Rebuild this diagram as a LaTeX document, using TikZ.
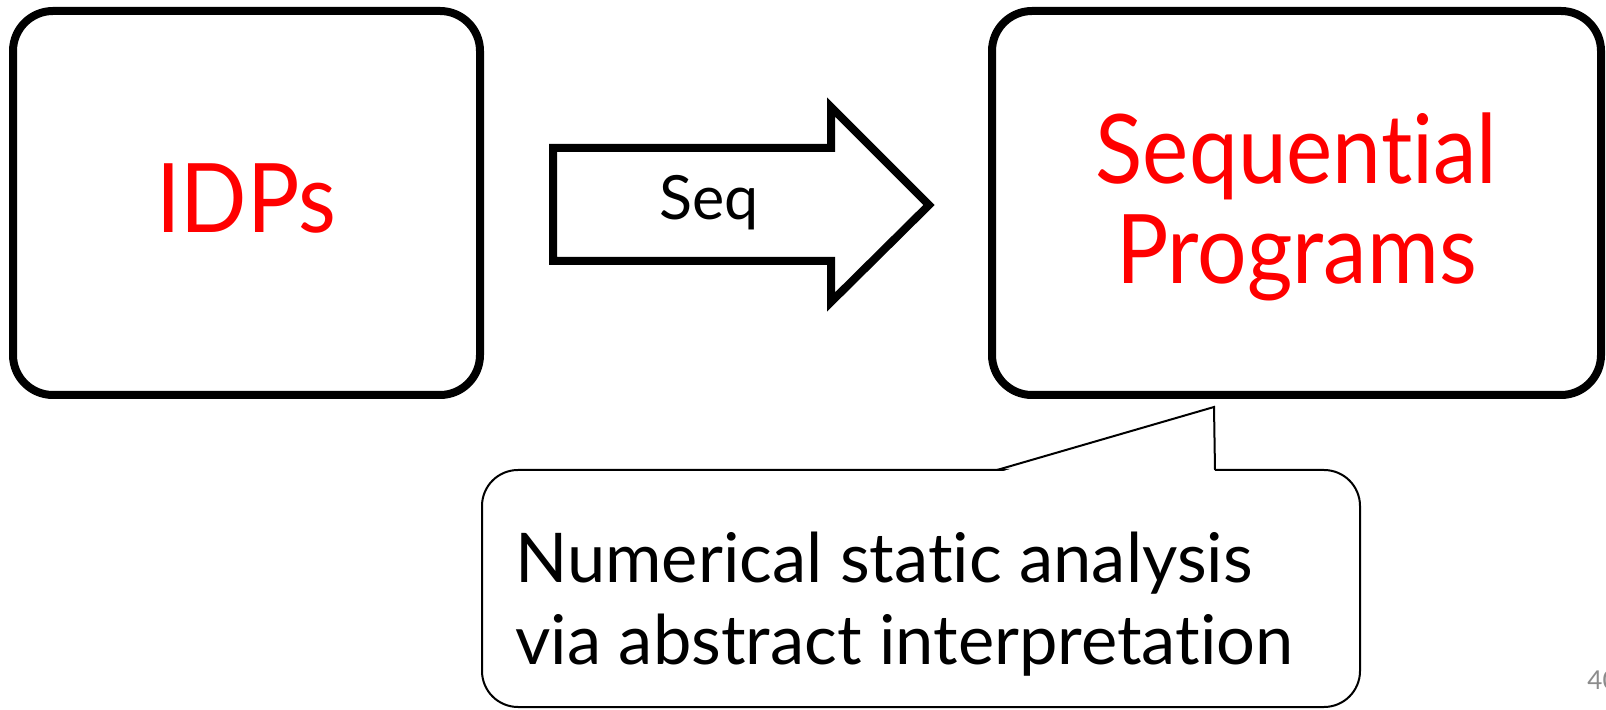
\documentclass[tikz,border=0pt]{standalone}
\usepackage{fontspec}
\setmainfont{Lato}[Ligatures=NoCommon]
\newfontfamily\titlefont{Lato}[Ligatures=NoCommon,FakeStretch=0.91]
\begin{document}
\begin{tikzpicture}[x=0.5pt,y=-0.5pt,
  bigbox/.style={draw=black,line width=4pt,rounded corners=20pt,
    minimum width=233.5pt,minimum height=192pt,inner sep=0pt},
  notebox/.style={draw=black,line width=1pt,rounded corners=18pt,
    minimum width=439pt,minimum height=118.5pt,inner sep=0pt},
  title/.style={text=red,font=\titlefont\fontsize{48}{50}\selectfont,inner sep=0pt},
  blockarrow/.style={draw=black,line width=4pt,line join=miter,fill=white},
  notetext/.style={font=\fontsize{34.3}{41}\selectfont,align=left,inner sep=0pt},
  pagenum/.style={text=black!45,font=\fontsize{13}{13}\selectfont,inner sep=0pt}]
\useasboundingbox (0,0) rectangle (1606,710);
\fill[white] (0,0) rectangle (1606,710);

% the two boxes
\node[bigbox] (idp) at (246.5,203) {};
\node[bigbox,minimum width=304.5pt] (seqprog) at (1296.5,203) {};
\node[title,anchor=base] (idplabel) at (246.5,233) {IDPs};
% multi-line node: base anchor sits on the last line
\node[title,anchor=base,align=center] (seqlabel) at (1296.5,284)
  {Sequential\\Programs};

% block arrow between them
\draw[blockarrow] (553,148) -- (831,148) -- (831,107) -- (929,205)
  -- (831,302) -- (831,261) -- (553,261) -- cycle;
\node[font=\fontsize{30.5}{32}\selectfont,anchor=base,inner sep=0pt] (seq) at (709,220) {Seq};

% callout under the right box
\node[notebox] (note) at (921,588.5) {};
\coordinate (tip) at (1214,407);
\fill[white] (997,473) -- (tip) -- (1215,473) -- cycle;
\draw[line width=1pt,line join=miter] (997,470) -- (tip) -- (1215,470);
\node[notetext,anchor=base west] (notelabel) at (515,664)
  {Numerical static analysis\\via abstract interpretation};

% page number
\node[pagenum,anchor=base west] (page) at (1587,689) {40};
\end{tikzpicture}
\end{document}
